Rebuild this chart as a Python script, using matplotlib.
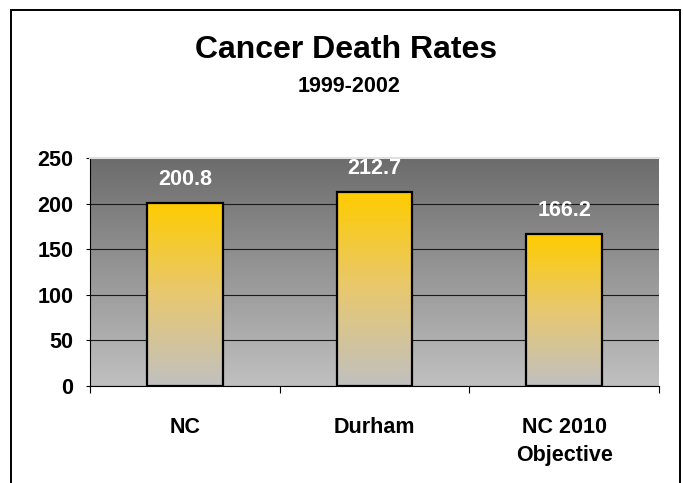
import numpy as np
import matplotlib
matplotlib.use('Agg')
import matplotlib.pyplot as plt
from matplotlib.colors import LinearSegmentedColormap
from matplotlib.patches import Rectangle

# chart data
categories = ['NC', 'Durham', 'NC 2010\nObjective']
rates = [200.8, 212.7, 166.2]
yticks = [0, 50, 100, 150, 200, 250]

plt.rcParams['font.family'] = ['Liberation Sans', 'DejaVu Sans']
plt.rcParams['font.weight'] = 'bold'

fig = plt.figure(figsize=(6.83, 4.83), dpi=100)
ax = fig.add_axes([90 / 683, 1 - 386 / 483, (659 - 90) / 683, (386 - 158) / 483])

# outer frame
fig.patches.append(Rectangle((11 / 683, -0.1), (680 - 11) / 683, 1.1 - 10 / 483,
                             transform=fig.transFigure, fill=False,
                             edgecolor='black', linewidth=1.4))

fig.text(0.507, 1 - 50 / 483, 'Cancer Death Rates', ha='center', va='center',
         fontsize=23, fontweight='bold')
fig.text(0.511, 1 - 87 / 483, '1999-2002', ha='center', va='center',
         fontsize=15.5, fontweight='bold')

# gray gradient background of plot area
bg = LinearSegmentedColormap.from_list('bg', ['#c0c0c0', '#6c6c6c'])
grad = np.linspace(0, 1, 256).reshape(-1, 1)
ax.imshow(grad, cmap=bg, origin='lower', aspect='auto', extent=[0, 1, 0, 1],
          transform=ax.transAxes, zorder=0)

x = np.arange(len(categories))
width = 0.4
bars = ax.bar(x, rates, width=width, facecolor='none', edgecolor='black',
              linewidth=1.6, zorder=3)

# gold-to-gray gradient inside each bar
gold = LinearSegmentedColormap.from_list('gold', ['#c0c0c0', '#e8c870', '#ffcc00'])
for b, v in zip(bars, rates):
    im = ax.imshow(grad, cmap=gold, origin='lower', aspect='auto',
                   extent=[b.get_x(), b.get_x() + b.get_width(), 0, v], zorder=2)
    im.set_clip_path(b)
    ax.annotate(f'{v:.1f}', (b.get_x() + b.get_width() / 2, v),
                xytext=(0, 17), textcoords='offset points', ha='center',
                va='center', color='white', fontsize=15.5, fontweight='bold')

ax.set_xlim(-0.5, len(categories) - 0.5)
ax.set_ylim(0, 250)
ax.set_yticks(yticks)
ax.set_yticklabels([str(t) for t in yticks], fontsize=15.5, fontweight='bold')
ax.set_xticks(x)
ax.set_xticklabels(categories, fontsize=15.5, fontweight='bold', linespacing=1.45)
ax.tick_params(axis='x', length=0, pad=22)
ax.set_xticks([-0.5, 0.5, 1.5, 2.5], minor=True)
ax.tick_params(axis='x', which='minor', length=5, width=0.8, direction='out')
ax.tick_params(axis='y', length=3, width=0.8, direction='out', pad=9)

ax.set_axisbelow(True)
ax.yaxis.grid(True, color='#1a1a1a', linewidth=0.8, zorder=1)
for s in ['left', 'bottom']:
    ax.spines[s].set_color('black')
    ax.spines[s].set_linewidth(0.8)
ax.spines['top'].set_color('#e0e0e0')
ax.spines['top'].set_linewidth(1.5)
ax.spines['right'].set_visible(False)

fig.savefig('out.png', dpi=100)
